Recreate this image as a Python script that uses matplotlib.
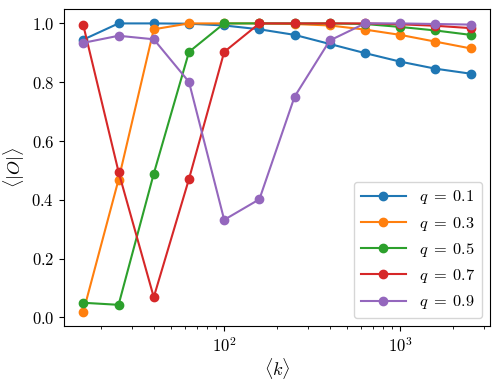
import numpy as np
import matplotlib
matplotlib.use("Agg")
import matplotlib.pyplot as plt

plt.rcParams['font.family'] = 'serif'
plt.rcParams['font.serif'] = ['cmr10', 'DejaVu Serif']
plt.rcParams['mathtext.fontset'] = 'cm'
plt.rcParams['axes.formatter.use_mathtext'] = True
plt.rcParams['axes.unicode_minus'] = False

k = [15.85, 25.12, 39.81, 63.10, 100.0, 158.5, 251.2, 398.1, 631.0, 1000.0, 1585.0, 2512.0]
q_labels = [0.1, 0.3, 0.5, 0.7, 0.9]
O_q01 = [0.945, 1.0, 1.0, 0.999, 0.993, 0.980, 0.961, 0.930, 0.899, 0.870, 0.846, 0.829]
O_q03 = [0.020, 0.469, 0.980, 1.0, 1.0, 1.0, 0.998, 0.993, 0.979, 0.961, 0.938, 0.915]
O_q05 = [0.050, 0.043, 0.489, 0.903, 1.0, 1.0, 1.0, 1.0, 0.998, 0.988, 0.976, 0.961]
O_q07 = [0.993, 0.495, 0.069, 0.471, 0.903, 1.0, 1.0, 1.0, 1.0, 0.997, 0.992, 0.984]
O_q09 = [0.934, 0.958, 0.946, 0.801, 0.332, 0.402, 0.751, 0.942, 1.0, 1.0, 0.998, 0.996]
series = [O_q01, O_q03, O_q05, O_q07, O_q09]

fig = plt.figure(figsize=(4.99, 3.84), dpi=100)
ax = fig.add_axes([64/499, 1-326/384, (490-64)/499, (326-9)/384])
for q, vals in zip(q_labels, series):
    ax.plot(k, vals, marker='o', markersize=6, linewidth=1.5, label=r'$q\;=\;%.1f$' % q)
ax.set_xscale('log')
ax.set_xlabel(r'$\langle k \rangle$', fontsize=13, labelpad=1)
ax.set_ylabel(r'$\langle |O| \rangle$', fontsize=13, labelpad=3)
ax.tick_params(labelsize=12)
ax.legend(loc='lower right', fontsize=11.8, handlelength=2.75)
fig.savefig('out.png', dpi=100)
